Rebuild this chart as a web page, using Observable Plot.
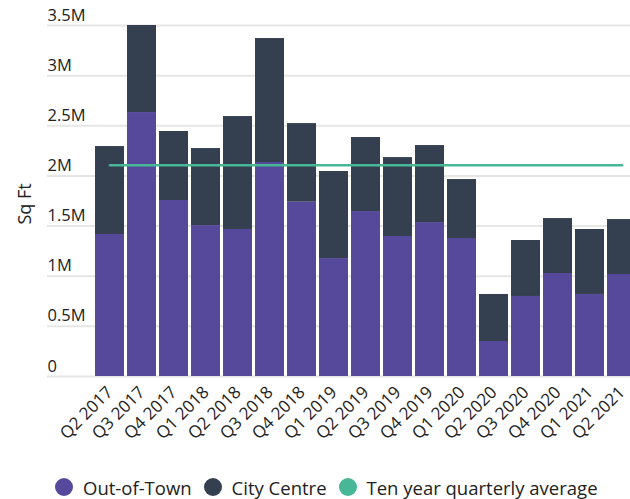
<!DOCTYPE html>
<html>
<head>
<meta charset="utf-8">
<script src="https://cdn.jsdelivr.net/npm/d3@7"></script>
<script src="https://cdn.jsdelivr.net/npm/@observablehq/plot@0.6"></script>
<style>
  html, body { margin: 0; padding: 0; background: #fff; overflow: hidden; }
  body { width: 630px; height: 499px; font-family: "Open Sans", sans-serif; }
  #chart svg { display: block; }
  #legend { display: flex; align-items: center; height: 44px; padding-left: 55px; font-size: 18.5px; color: #222; }
  #legend .item { display: flex; align-items: center; margin-right: 12px; }
  #legend .dot { width: 18px; height: 18px; border-radius: 50%; margin-right: 10px; }
</style>
</head>
<body>
<div id="chart"></div>
<div id="legend"></div>
<script>
const quarters = ["Q2 2017","Q3 2017","Q4 2017","Q1 2018","Q2 2018","Q3 2018","Q4 2018","Q1 2019","Q2 2019","Q3 2019","Q4 2019","Q1 2020","Q2 2020","Q3 2020","Q4 2020","Q1 2021","Q2 2021"];
const outOfTown = [1.416,2.632,1.755,1.505,1.466,2.134,1.738,1.176,1.645,1.396,1.535,1.376,0.349,0.798,1.027,0.818,1.017].map(v => v * 1e6);
const totals = [2.293,3.500,2.443,2.273,2.592,3.370,2.522,2.044,2.383,2.183,2.303,1.964,0.818,1.356,1.575,1.466,1.565].map(v => v * 1e6);
const cityCentre = totals.map((t, i) => t - outOfTown[i]);
const tenYearAverage = 2.107e6;
const seriesNames = ["Out-of-Town", "City Centre", "Ten year quarterly average"];
const seriesColors = ["#56499c", "#343f50", "#48b795"];
const yTicks = [0, 0.5e6, 1e6, 1.5e6, 2e6, 2.5e6, 3e6, 3.5e6];

const rows = [];
quarters.forEach((q, i) => {
  rows.push({quarter: q, series: seriesNames[0], value: outOfTown[i]});
  rows.push({quarter: q, series: seriesNames[1], value: cityCentre[i]});
});
const avgRows = [quarters[0], quarters[quarters.length - 1]].map(q => ({quarter: q, value: tenYearAverage}));

const fmt = v => v === 0 ? "0" : (v / 1e6) + "M";

const chart = Plot.plot({
  width: 630,
  height: 465,
  marginTop: 25,
  marginBottom: 89,
  marginLeft: 47,
  marginRight: 0,
  style: {fontFamily: "Open Sans, sans-serif", color: "#222"},
  x: {domain: quarters, range: [92, 639], padding: 0.094, round: false, label: null},
  y: {domain: [0, 3.5e6], label: null, axis: null},
  color: {domain: seriesNames, range: seriesColors},
  marks: [
    Plot.gridY(yTicks, {stroke: "#e6e6e6", strokeOpacity: 1, strokeWidth: 2}),
    Plot.text(yTicks, {y: d => d, text: fmt, frameAnchor: "left", textAnchor: "start", lineAnchor: "bottom", dy: -5, fontSize: 16.5, fill: "#222"}),
    Plot.barY(rows, {x: "quarter", y: "value", fill: "series", order: seriesNames}),
    Plot.line(avgRows, {x: "quarter", y: "value", stroke: seriesColors[2], strokeWidth: 2.5}),
    Plot.axisX({tickSize: 0, tickPadding: 13, tickRotate: -45, fontSize: 17, fill: "#222"}),
    Plot.text(["Sq Ft"], {frameAnchor: "left", dx: -22, y: 1.515e6, rotate: -90, fontSize: 18, fill: "#222"})
  ]
});
document.getElementById("chart").appendChild(chart);

const legend = document.getElementById("legend");
seriesNames.forEach((name, i) => {
  const item = document.createElement("div");
  item.className = "item";
  const dot = document.createElement("span");
  dot.className = "dot";
  dot.style.background = seriesColors[i];
  const label = document.createElement("span");
  label.textContent = name;
  item.appendChild(dot);
  item.appendChild(label);
  legend.appendChild(item);
});
</script>
</body>
</html>
